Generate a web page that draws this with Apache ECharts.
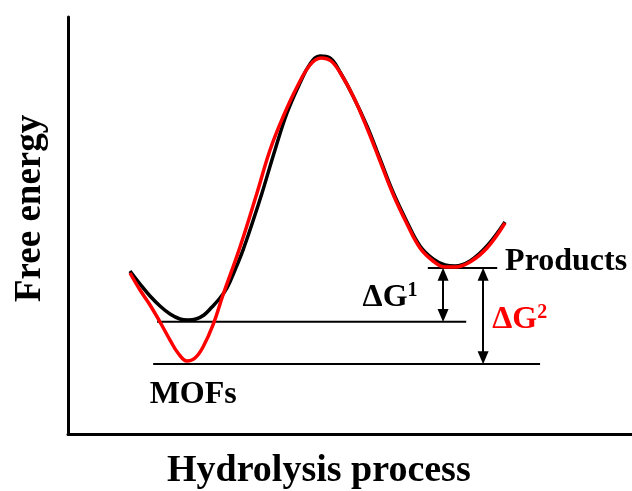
<!DOCTYPE html>
<html>
<head>
<meta charset="utf-8">
<script src="https://cdn.jsdelivr.net/npm/echarts@6/dist/echarts.min.js"></script>
<style>
html,body{margin:0;padding:0;background:#fff;}
#main{width:632px;height:491px;}
</style>
</head>
<body>
<div id="main"></div>
<script>
// reaction coordinate (0-100) vs free energy (0-100)
var blackCurve = [
    [10.99, 39.09], [12.77, 35.97], [14.54, 33.09], [16.31, 30.70], [18.09, 28.78],
    [19.86, 27.58], [21.28, 27.34], [22.70, 27.58], [24.11, 28.54], [25.53, 30.46],
    [26.95, 32.61], [28.19, 35.01], [29.61, 39.33], [31.03, 44.12], [32.62, 50.36],
    [34.40, 57.79], [36.70, 68.11], [38.83, 76.98], [41.13, 84.17], [42.91, 88.73],
    [44.68, 90.65], [46.45, 90.17], [48.23, 86.81], [50.53, 81.06], [53.01, 73.86],
    [55.32, 65.95], [57.62, 58.03], [60.11, 50.84], [62.41, 45.08], [64.72, 41.97],
    [66.84, 40.53], [68.62, 40.29], [71.28, 41.49], [74.29, 45.08], [77.48, 50.84]
];
var redCurve = [
    [10.99, 38.61], [12.77, 34.53], [14.54, 30.94], [16.31, 26.86], [18.09, 22.54],
    [19.50, 19.42], [21.10, 17.51], [22.52, 18.23], [23.94, 20.86], [25.71, 26.14],
    [27.48, 33.33], [30.50, 44.84], [33.51, 57.79], [35.82, 68.11], [38.12, 76.02],
    [40.60, 83.21], [42.91, 88.49], [44.86, 90.17], [46.63, 89.45], [48.40, 86.33],
    [50.71, 80.58], [53.01, 73.38], [55.32, 65.47], [57.62, 57.55], [60.11, 50.36],
    [62.41, 44.60], [64.72, 41.49], [66.84, 40.05], [68.62, 40.05], [71.28, 41.25],
    [74.29, 44.60], [77.48, 50.60]
];
// energy levels: [xFrom, xTo, energy]
var levels = [
    [63.8, 76.1, 39.8],
    [15.8, 70.6, 26.9],
    [15.1, 83.7, 16.8]
];
// double arrows: [x, energyFrom, energyTo]
var arrows = [
    [66.5, 39.8, 26.9],
    [73.6, 39.8, 16.8]
];
// text labels: [x, energy, text, superscript]
var blackLabels = [
    [77.5, 41.3, 'Products', ''],
    [57.1, 32.6, 'ΔG', '1'],
    [22.2, 9.4, 'MOFs', '']
];
var redLabels = [
    [80.1, 27.3, 'ΔG', '2']
];

var FONT = '"Liberation Serif", "Times New Roman", serif';
// half an arrow head, in energy units, so the tips end on the level lines
var HEAD_INSET = 1.5;

var myChart = echarts.init(document.getElementById('main'));

function labelItems(list, color) {
    return list.map(function (d) {
        return {
            value: [d[0], d[1]],
            label: {
                show: true,
                position: 'inside',
                formatter: d[3] ? '{m|' + d[2] + '}{s|' + d[3] + '}' : '{m|' + d[2] + '}',
                align: d[2] === 'Products' ? 'left' : 'center',
                verticalAlign: 'middle',
                rich: {
                    m: {color: color, fontFamily: FONT, fontWeight: 'bold', fontSize: 32, lineHeight: 34},
                    s: {color: color, fontFamily: FONT, fontWeight: 'bold', fontSize: 20, lineHeight: 22, verticalAlign: 'top'}
                }
            }
        };
    });
}

var series = [
    {
        name: 'black',
        type: 'line',
        data: blackCurve,
        smooth: 0.4,
        showSymbol: false,
        lineStyle: {color: '#000', width: 3.5},
        z: 3
    },
    {
        name: 'red',
        type: 'line',
        data: redCurve,
        smooth: 0.4,
        showSymbol: false,
        lineStyle: {color: '#ff0000', width: 3.5},
        z: 4
    }
];

levels.forEach(function (l) {
    series.push({
        type: 'line',
        data: [[l[0], l[2]], [l[1], l[2]]],
        showSymbol: false,
        lineStyle: {color: '#000', width: 2},
        z: 2
    });
});

series.push({
    type: 'line',
    data: [],
    markLine: {
        silent: true,
        symbol: ['triangle', 'triangle'],
        symbolSize: [11, 13],
        label: {show: false},
        lineStyle: {color: '#000', width: 2, type: 'solid'},
        data: arrows.map(function (a) {
            return [{coord: [a[0], a[1] - HEAD_INSET]}, {coord: [a[0], a[2] + HEAD_INSET]}];
        })
    }
});

series.push({
    type: 'scatter',
    symbolSize: 0,
    itemStyle: {opacity: 1},
    data: labelItems(blackLabels, '#000')
});

series.push({
    type: 'scatter',
    symbolSize: 0,
    itemStyle: {opacity: 1},
    data: labelItems(redLabels, '#ff0000')
});

var option = {
    animation: false,
    grid: {left: 68, top: 17, right: 0, bottom: 57},
    xAxis: {
        type: 'value',
        min: 0,
        max: 100,
        axisLine: {show: true, lineStyle: {color: '#000', width: 3}},
        axisTick: {show: false},
        axisLabel: {show: false},
        splitLine: {show: false}
    },
    yAxis: {
        type: 'value',
        min: 0,
        max: 100,
        axisLine: {show: true, lineStyle: {color: '#000', width: 3}},
        axisTick: {show: false},
        axisLabel: {show: false},
        splitLine: {show: false}
    },
    graphic: [
        {
            type: 'text',
            left: 167,
            top: 452,
            style: {
                text: 'Hydrolysis process',
                fill: '#000',
                font: 'bold 38px ' + FONT
            }
        },
        {
            type: 'text',
            x: 12,
            y: 302,
            rotation: Math.PI / 2,
            style: {
                text: 'Free energy',
                fill: '#000',
                font: 'bold 37px ' + FONT,
                align: 'left',
                verticalAlign: 'top'
            }
        }
    ],
    series: series
};
myChart.setOption(option);
</script>
</body>
</html>
